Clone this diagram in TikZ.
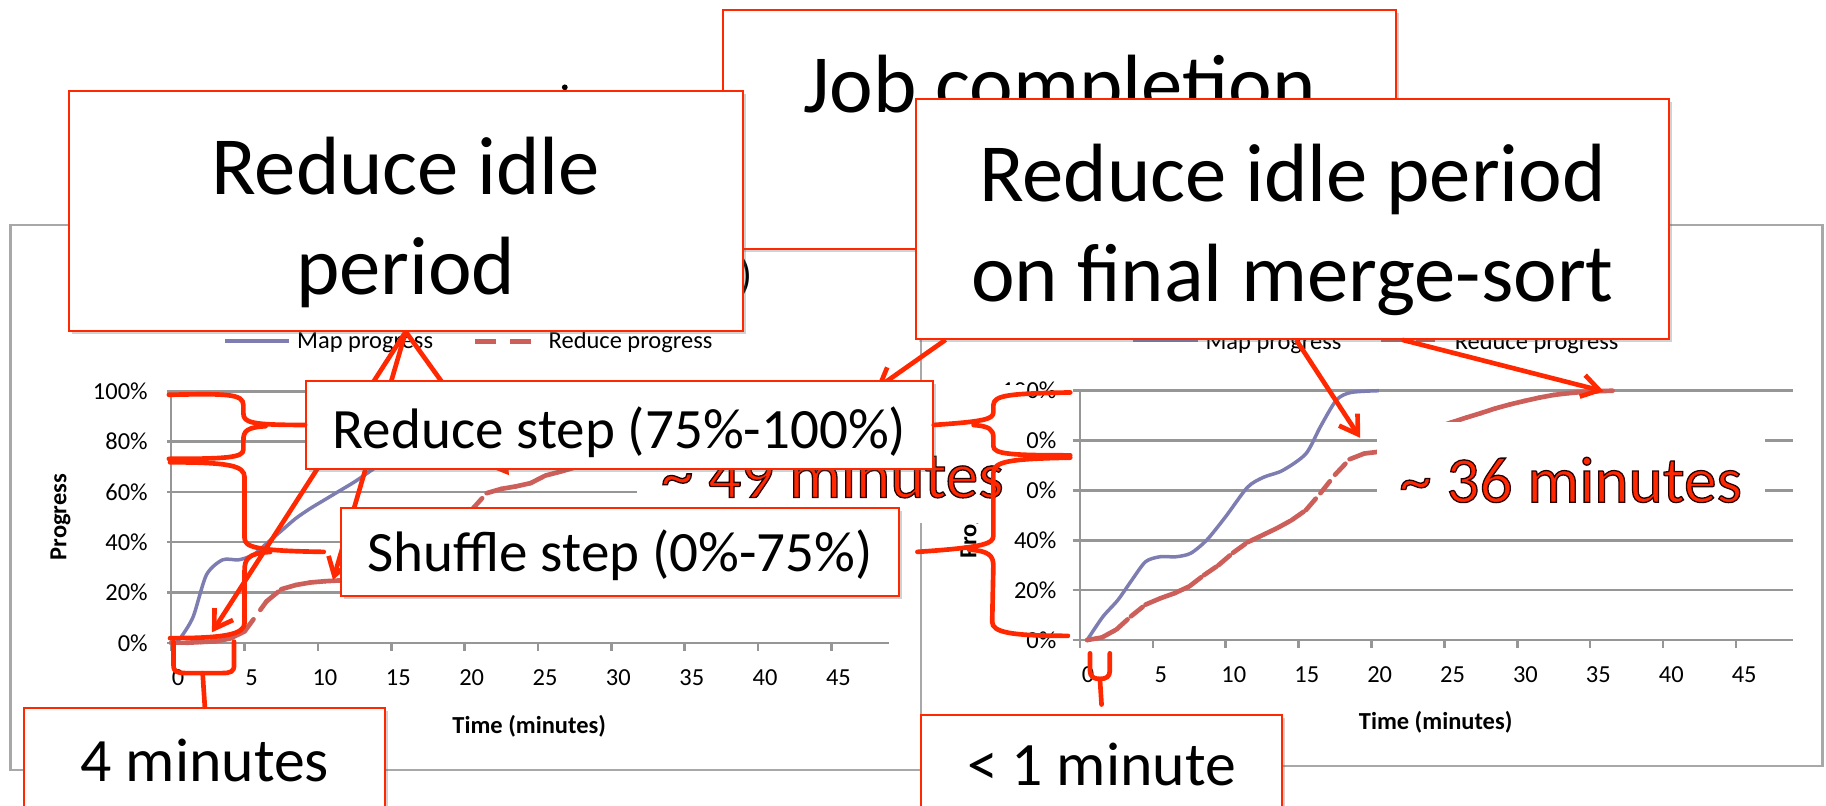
\documentclass[tikz,border=0pt]{standalone}
\usepackage{fontspec}
\setmainfont{Carlito}
\usetikzlibrary{arrows.meta,shadows}
\definecolor{slred}{RGB}{255,40,0}
\definecolor{mapblue}{RGB}{125,125,178}
\definecolor{redprog}{RGB}{205,95,90}
\definecolor{gridgray}{RGB}{150,150,150}
\definecolor{framegray}{RGB}{168,168,168}
% red letters with a thin dark outline
\newcommand\strokedtext[1]{\special{pdf:literal direct 2 Tr 1.1 w 0.15 0 0 RG}#1\special{pdf:literal direct 0 Tr}}

\begin{document}
\begin{tikzpicture}[x=1pt,y=-1pt,
  box/.style={draw=slred,line width=1.8pt,fill=white,inner sep=0pt,align=flush center,
              drop shadow={shadow xshift=2.5pt,shadow yshift=-2.5pt,opacity=.3,fill=black!60}},
  bigbox/.style={box,font=\fontsize{71}{86}\selectfont},
  stepbox/.style={box,font=\fontsize{49}{58}\selectfont},
  minbox/.style={box,font=\fontsize{53}{64}\selectfont},
  mask/.style={fill=white,inner sep=0pt,align=flush center,text=slred,font=\fontsize{56}{67}\selectfont},
  frame/.style={draw=framegray,line width=2pt},
  gridl/.style={draw=gridgray,line width=2.2pt},
  ticklbl/.style={inner sep=0pt,font=\fontsize{21}{25}\selectfont},
  axttl/.style={inner sep=0pt,font=\bfseries\fontsize{21}{25}\selectfont},
  mapline/.style={draw=mapblue,line width=3pt,line join=round},
  redline/.style={draw=redprog,line width=4pt,line cap=round,dash pattern=on 13pt off 10pt},
  arr/.style={-{Straight Barb[length=15pt,width=19pt]},draw=slred,line width=4pt},
  brace/.style={draw=slred,line width=4pt,line cap=round,line join=round}]
\useasboundingbox (0,0) rectangle (1568,692);

% remnant of the slide title behind the boxes
\fill (485,75) circle (2.5pt);

% left chart: progress with 4 minute idle period
\draw[frame] (9,193) rectangle (791,661);
\node[font=\fontsize{37}{44}\selectfont,inner sep=0pt,anchor=east] (ltitle) at (646,238) {)};
\begin{scope}[shift={(147,552)},x=12.6pt,y=2.16pt]
  \foreach \p in {0,20,...,100}{
    \draw[gridl] (-0.3,\p) -- (48.9,\p);
    \node[ticklbl,anchor=east] (ly\p) at ([xshift=-20pt]0,\p) {\p\%};
  }
  \draw[gridl] (0,0) -- (0,100);
  \foreach \t in {0,5,...,45}{
    \draw[gridl] (\t,0) -- ++(0pt,-7pt);
    \node[ticklbl] (lx\t) at ([xshift=6pt,yshift=-30pt]\t,0) {\t};
  }
  \node[axttl,rotate=90] (lprog) at ([xshift=-95pt]0,50) {Progress};
  \node[axttl] (ltime) at ([yshift=-72pt]24.4,0) {Time (minutes)};
  \draw[mapline] plot[smooth,tension=.45] coordinates {(0.3,0) (0.7,2.5) (1.5,10.4)
    (2.4,27) (3.5,33) (4.6,33) (5.6,35) (6.6,40) (7.5,44.5) (8.5,49.5) (9.5,53.5)
    (10.5,57) (11.5,60.5) (12.5,64) (13.5,68) (14.5,72) (16,79) (17.5,87) (19,94)
    (20.5,98.5) (22,100)};
  \foreach \x/\y [remember=\x as \lx (initially 0),remember=\y as \ly (initially 0)] in {
    0/0,1/0,2/0.3,3/0.6,4/1.7,5/4.5,6.5/16.5,7.5/21.3,8.5/23,9.5/24,10.5/24.5,
    11.5/24.8,12.5/25,13.5/25,14.5/25.2,15.5/25.5,16.5/26.5,17.5/30,18.5/38,19.5/46,
    20.5/53,21.5/59.5,22.5/61.2,23.5/62.2,24.5/63.5,25.5/66.5,26.5/68,27.5/69.7,
    28.5/71.8,30/74,32/77,35/82,38/87,41/91,44/95,47/98,49/100}{
    \draw[redline] (\lx,\ly) -- (\x,\y);
  }
\end{scope}
\draw[mapline,line width=3.5pt] (193,293) -- (248,293);
\node[ticklbl,anchor=west] (lmapleg) at (255,294) {Map progress};
\draw[draw=redprog,line width=4pt,dash pattern=on 18pt off 12pt] (408,293) -- (456,293);
\node[ticklbl,anchor=west] (lredleg) at (471,294) {Reduce progress};

% right chart: progress with less than 1 minute idle period
\draw[frame] (791,193) rectangle (1565,658);
\begin{scope}[shift={(927.3,549.6)},x=12.52pt,y=2.141pt]
  \foreach \p in {0,20,...,100}{
    \draw[gridl] (-0.5,\p) -- (48.9,\p);
    \node[ticklbl,anchor=east] (ry\p) at ([xshift=-20pt]0,\p) {\p\%};
  }
  \draw[gridl] (0,0) -- (0,100);
  \foreach \t in {0,5,...,45}{
    \draw[gridl] (\t,0) -- ++(0pt,-7pt);
    \node[ticklbl] (rx\t) at ([xshift=7pt,yshift=-30pt]\t,0) {\t};
  }
  \node[axttl,rotate=90] (rprog) at ([xshift=-94pt]0,50) {Progress};
  \node[axttl] (rtime) at ([yshift=-71pt]24.4,0) {Time (minutes)};
  \draw[mapline] plot[smooth,tension=.45] coordinates {(0.5,0) (1.57,9.3) (2.6,16)
    (3.5,23.5) (4.5,31.4) (5.5,33.4) (6.6,33.4) (7.6,34.8) (8.7,40.1) (10,49.5)
    (11.5,61.3) (12.6,65.3) (13.9,68) (15.5,74.7) (16.5,85.6) (17.6,96.3) (18.6,99.3)
    (20.5,100)};
  \foreach \x/\y [remember=\x as \lx (initially 0.5),remember=\y as \ly (initially 0)] in {
    0.5/0,1.5/1,2.5/4.2,3.5/9.5,4.5/14.2,5.5/16.7,6.5/18.8,7.5/21.5,8.5/26,9.5/30,
    10.5/35,11.5/39.2,12.5/42,13.5/44.8,14.5/48,15.5/52.1,16.5/58.9,17.5/66.3,
    18.5/72.5,19.5/74.8,20.5/75.5,21.5/78.5,22.5/81.3,23.5/83.6,24.5/85.4,25.5/87.3,
    26.5/89.2,27.5/91,28.5/92.9,29.5/94.5,30.5/95.9,31.5/97.2,32.5/98.3,33.5/99,
    34.5/99.5,35.5/99.8,36.6/100}{
    \draw[redline] (\lx,\ly) -- (\x,\y);
  }
\end{scope}
\draw[mapline,line width=3.5pt] (973,292) -- (1029,292);
\node[ticklbl,anchor=west] (rmapleg) at (1035,295) {Map progress};
\draw[draw=redprog,line width=4pt,dash pattern=on 18pt off 12pt] (1186,292) -- (1232,292);
\node[ticklbl,anchor=west] (rredleg) at (1249,295) {Reduce progress};

% completion times, on white text boxes
\node[mask,anchor=north west,text width=335pt,text height=97pt,text depth=22pt]
  (min49) at (547,330) {\strokedtext{\textasciitilde{} 49 minutes}};
\node[mask,anchor=north west,text width=333pt,text height=69pt,text depth=21pt]
  (min36) at (1182,362) {\strokedtext{\textasciitilde{} 36 minutes}};

% callout boxes at the top
\node[bigbox,anchor=north west,text width=578pt,text height=88pt,text depth=117pt]
  (jobbox) at (620,8) {Job completion};
\node[bigbox,anchor=north west,text width=579pt,text height=89pt,text depth=117pt]
  (idlebox) at (58,77) {Reduce idle\\period};
\node[bigbox,anchor=north west,text width=646pt,text height=88pt,text depth=118pt]
  (mergebox) at (786,84) {Reduce idle period\\on final merge-sort};
\coordinate (redend49) at (752,334);
\coordinate (redmid36) at (1168,376);
\coordinate (redend36) at (1377,336);
\draw[arr] ([xshift=26pt]mergebox.south west) -- (redend49);
\draw[arr] ([xshift=327pt]mergebox.south west) -- (redmid36);
\draw[arr] ([xshift=418pt]mergebox.south west) -- (redend36);

% idle period arrows, under the step boxes
\coordinate (mapzero) at (182,543);
\coordinate (redflat) at (286,498);
\coordinate (redrise) at (437,408);
\foreach \tgt in {mapzero,redflat,redrise}
  \draw[arr] (idlebox.south) -- (\tgt);

\node[stepbox,anchor=north west,text width=538pt,text height=58pt,text depth=18pt]
  (redstep) at (262,326) {Reduce step (75\%-100\%)};
\node[stepbox,anchor=north west,text width=479pt,text height=55pt,text depth=21pt]
  (shufstep) at (292,435) {Shuffle step (0\%-75\%)};

% braces on the left chart
\draw[brace] (145,339) .. controls (195,338) and (209,338) .. (209,348) -- (209,355)
  .. controls (209,363) and (216,365) .. (redstep.west);
\draw[brace] (228,366) .. controls (212,367) and (209,370) .. (209,378) -- (209,386)
  .. controls (209,393) and (195,394) .. (145,394);
\draw[brace] (146,397) .. controls (198,397) and (210,400) .. (210,410) -- (210,462)
  .. controls (210,470) and (220,473) .. ([xshift=-14pt]shufstep.west);
\draw[brace] (232,474) .. controls (213,475) and (210,480) .. (210,490) -- (210,535)
  .. controls (210,545) and (192,548) .. (146,548);
% braces on the right chart
\draw[brace] (919,337) .. controls (868,338) and (853,339) .. (853,348) -- (853,354)
  .. controls (853,360) and (845,362) .. (redstep.east);
\draw[brace] (836,365) .. controls (850,366) and (853,369) .. (853,376) -- (853,383)
  .. controls (853,390) and (868,391) .. (919,391);
\draw[brace] (919,393) .. controls (868,394) and (853,396) .. (853,406) -- (853,460)
  .. controls (853,467) and (845,470) .. ([xshift=15pt]shufstep.east);
\draw[brace] (832,472) .. controls (849,473) and (853,477) .. (853,486) -- (852,534)
  .. controls (852,543) and (868,546) .. (917,546);

% idle periods on the time axes
\node[minbox,anchor=north west,text width=310pt,text height=63pt,text depth=60pt]
  (fourmin) at (20,607) {4 minutes};
\node[minbox,anchor=north west,text width=310pt,text height=61pt,text depth=60pt]
  (onemin) at (790,613) {< 1 minute};
\draw[brace] (149,551) -- (149,571) .. controls (149,577) and (152,578) .. (160,578)
  -- (190,578) .. controls (198,578) and (201,577) .. (201,571) -- (201,551);
\draw[brace] (174,578) -- (fourmin.north);
\draw[brace] (936,561) -- (936,576) .. controls (936,581) and (939,583) .. (944.5,583)
  .. controls (950,583) and (953,581) .. (953,576) -- (953,561);
\draw[brace] (944.5,583) -- ([yshift=8pt]onemin.north);
\end{tikzpicture}
\end{document}
